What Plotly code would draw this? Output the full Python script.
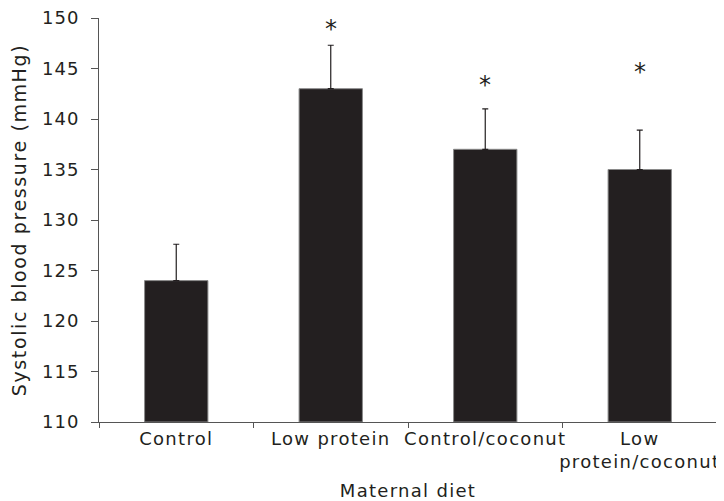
import plotly.graph_objects as go

categories = ["Control", "Low protein", "Control/coconut", "Low protein/coconut"]
tick_labels = ["Control", "Low protein", "Control/coconut", "Low<br>protein/coconut"]
sbp_mean = [124.0, 143.0, 137.0, 135.0]
sbp_err = [3.6, 4.3, 4.0, 3.9]
sig_labels = ["", "*", "*", "*"]
sig_y = [None, 149.4, 143.9, 145.1]

FONT = "DejaVu Sans"
TXT = "#231f20"

def sp(s, ls=1.3):
    return "<br>".join(f'<span style="letter-spacing:{ls}px">{p}</span>' for p in s.split("<br>"))

fig = go.Figure()
fig.add_trace(go.Bar(
    x=categories, y=[m - 110 for m in sbp_mean], base=110,
    marker=dict(color="#231f20", line=dict(color="#8a8a8a", width=1)),
    error_y=dict(type="data", symmetric=False, array=sbp_err,
                 arrayminus=[0] * len(sbp_err), color="#231f20",
                 thickness=1.2, width=3),
    width=0.41,
))

for c, lab, yy in zip(categories, sig_labels, sig_y):
    if lab:
        fig.add_annotation(x=c, y=yy, text=lab, showarrow=False,
                           font=dict(family=FONT, size=24, color=TXT),
                           yanchor="middle", yshift=-5)

# page body has an 8px default margin; figure size compensates
fig.update_layout(
    width=716, height=493,
    margin=dict(l=91, r=7, t=10, b=79),
    paper_bgcolor="white", plot_bgcolor="white",
    showlegend=False,
    font=dict(family=FONT, size=18, color=TXT),
)
fig.update_xaxes(
    tickvals=categories, ticktext=[sp(t) for t in tick_labels],
    tickangle=0, automargin=False,
    showline=True, linecolor="#555555", linewidth=1,
    ticks="", tickfont=dict(size=18),
    title=dict(text=sp("Maternal diet"), font=dict(size=18), standoff=14),
    showgrid=False, zeroline=False,
)
fig.update_yaxes(
    range=[110, 150], automargin=False,
    tickvals=list(range(110, 151, 5)),
    ticktext=[sp(str(v), 1.0) for v in range(110, 151, 5)],
    ticklabelstandoff=8, ticklabeloverflow="allow",
    showline=True, linecolor="#555555", linewidth=1,
    ticks="outside", ticklen=7, tickcolor="#555555",
    title=dict(text=sp("Systolic blood pressure (mmHg)", 1.6), font=dict(size=19), standoff=10),
    showgrid=False, zeroline=False,
)
fig.update_xaxes(minor=dict(ticks="outside", ticklen=5, tickcolor="#555555", tickwidth=1,
                            tickvals=[-0.5, 0.5, 1.5, 2.5, 3.5], showgrid=False))
fig.write_html("out.html")
